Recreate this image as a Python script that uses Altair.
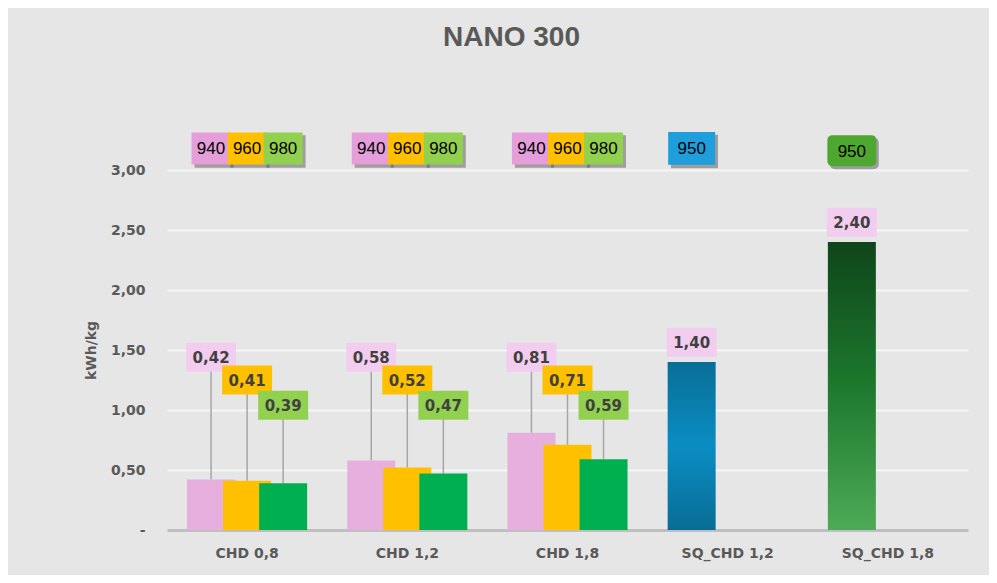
import altair as alt
import pandas as pd

# ---- data ----
categories = ["CHD 0,8", "CHD 1,2", "CHD 1,8", "SQ_CHD 1,2", "SQ_CHD 1,8"]
grouped_categories = ["CHD 0,8", "CHD 1,2", "CHD 1,8"]
series_names = ["940", "960", "980"]
series_940 = [0.42, 0.58, 0.81]
series_960 = [0.41, 0.52, 0.71]
series_980 = [0.39, 0.47, 0.59]
sq_categories = ["SQ_CHD 1,2", "SQ_CHD 1,8"]
sq_series = "950"
sq_950 = [1.40, 2.40]
y_ticks = [0, 0.5, 1.0, 1.5, 2.0, 2.5, 3.0]

# ---- styles ----
slots = ["s1", "s2", "s3"]
bar_colors = {"940": "#E6AFDE", "960": "#FFC000", "980": "#00B050"}
label_colors = {"940": "#F2CDEF", "960": "#FFC000", "980": "#92D050"}
legend_colors = {"940": "#E49FDA", "960": "#FFC000", "980": "#92D050"}
label_level = {"940": 1.44, "960": 1.25, "980": 1.04}
sq_label_gap = 0.165
legend_level = 3.18
FONT = "DejaVu Sans"
NARROW = "Liberation Sans"


def fmt(v):
    return f"{v:.2f}".replace(".", ",")


rows = []
for name, vals, slot in zip(series_names, [series_940, series_960, series_980], slots):
    for cat, v in zip(grouped_categories, vals):
        rows.append(dict(category=cat, slot=slot, series=name, value=v, text=fmt(v),
                         bar_color=bar_colors[name], label_color=label_colors[name],
                         label_y=label_level[name]))
df = pd.DataFrame(rows)

sq_rows = [dict(category=c, slot="s1", series=sq_series, value=v, text=fmt(v),
                label_color="#F2CDEF", label_y=v + sq_label_gap)
           for c, v in zip(sq_categories, sq_950)]
sq_df = pd.DataFrame(sq_rows)
labels_df = pd.concat([df, sq_df], ignore_index=True)

legend_rows = []
for cat in grouped_categories:
    for name, slot in zip(series_names, slots):
        legend_rows.append(dict(category=cat, slot=slot, text=name, fill=legend_colors[name],
                                ly=legend_level))
legend_df = pd.DataFrame(legend_rows)
single_legend_df = pd.DataFrame([
    dict(category="SQ_CHD 1,2", slot="s1", text="950", fill="#1E9FDC", ly=legend_level),
])
round_legend_df = pd.DataFrame([
    dict(category="SQ_CHD 1,8", slot="s1", text="950", fill="#4EA72E", ly=legend_level - 0.02),
])

x_enc = alt.X(
    "category:N", sort=categories,
    scale=alt.Scale(domain=categories, paddingInner=0.325, paddingOuter=0.1625),
    axis=alt.Axis(title=None, labelAngle=0, labelFont=FONT, labelFontWeight="bold",
                  labelFontSize=14, labelColor="#595959", labelPadding=16,
                  domainColor="#BFBFBF", domainWidth=3, ticks=False, grid=False),
)
xo_enc = alt.XOffset("slot:N", scale=alt.Scale(domain=slots, paddingInner=0, paddingOuter=0))
y_scale = alt.Scale(domain=[0, 3], nice=False)
y_axis = alt.Axis(
    values=y_ticks, title="kWh/kg", grid=True, gridColor="#F6F6F6", gridWidth=2,
    domain=False, ticks=False, labelPadding=22, labelFont=FONT, labelFontWeight="bold",
    labelFontSize=14, labelColor="#595959",
    labelExpr="datum.value == 0 ? '-' : replace(format(datum.value, '.2f'), '.', ',')",
    titleFont=FONT, titleFontSize=14, titleFontWeight="bold", titleColor="#595959",
    titleAngle=270, titleX=-76, titleY=180, titleAlign="center", titleBaseline="middle",
)

rules = alt.Chart(df).mark_rule(color="#A6A6A6", strokeWidth=1.5).encode(
    x=x_enc, xOffset=xo_enc,
    y=alt.Y("value:Q", scale=y_scale, axis=y_axis), y2="label_y:Q",
)

bars = alt.Chart(df).mark_bar(width=48).encode(
    x=x_enc, xOffset=xo_enc, y=alt.Y("value:Q", scale=y_scale),
    color=alt.Color("bar_color:N", scale=None),
)

blue_grad = alt.Gradient(gradient="linear", x1=0, x2=0, y1=0, y2=1, stops=[
    alt.GradientStop(offset=0, color="#086E97"),
    alt.GradientStop(offset=0.5, color="#0B8DC2"),
    alt.GradientStop(offset=1, color="#086D96"),
])
green_grad = alt.Gradient(gradient="linear", x1=0, x2=0, y1=0, y2=1, stops=[
    alt.GradientStop(offset=0, color="#0F451B"),
    alt.GradientStop(offset=0.5, color="#1D792D"),
    alt.GradientStop(offset=1, color="#4DAA57"),
])
sq_blue = alt.Chart(sq_df).transform_filter(alt.datum.category == sq_categories[0]).mark_bar(
    width=48, color=blue_grad).encode(x=x_enc, xOffset=xo_enc, y=alt.Y("value:Q", scale=y_scale))
sq_green = alt.Chart(sq_df).transform_filter(alt.datum.category == sq_categories[1]).mark_bar(
    width=48, color=green_grad).encode(x=x_enc, xOffset=xo_enc, y=alt.Y("value:Q", scale=y_scale))

label_boxes = alt.Chart(labels_df).mark_point(
    shape="M-1,-0.58H1V0.58H-1Z", size=2500, filled=True, opacity=1, strokeWidth=0,
).encode(
    x=x_enc, xOffset=xo_enc, y=alt.Y("label_y:Q", scale=y_scale),
    fill=alt.Fill("label_color:N", scale=None),
)
label_text = alt.Chart(labels_df).mark_text(
    font=FONT, fontWeight="bold", fontSize=15, color="#404040", baseline="middle", dy=1,
).encode(x=x_enc, xOffset=xo_enc, y=alt.Y("label_y:Q", scale=y_scale), text="text:N")

# top legend boxes
shadow = alt.Chart(legend_df).mark_point(
    shape="M-0.85,-0.67H1.15V0.99H-0.85Z", size=1521, filled=True, opacity=0.5,
    strokeWidth=0, color="#555555",
).encode(x=x_enc, xOffset=xo_enc, y=alt.Y("ly:Q", scale=y_scale))
boxes = alt.Chart(legend_df).mark_point(
    shape="M-1,-0.82H1V0.82H-1Z", size=1521, filled=True, opacity=1, strokeWidth=0,
).encode(x=x_enc, xOffset=xo_enc, y=alt.Y("ly:Q", scale=y_scale),
         fill=alt.Fill("fill:N", scale=None))
shadow1 = alt.Chart(single_legend_df).mark_point(
    shape="M-0.88,-0.58H1.12V0.84H-0.88Z", size=2209, filled=True, opacity=0.5,
    strokeWidth=0, color="#555555",
).encode(x=x_enc, xOffset=xo_enc, y=alt.Y("ly:Q", scale=y_scale))
boxes1 = alt.Chart(single_legend_df).mark_point(
    shape="M-1,-0.7H1V0.7H-1Z", size=2209, filled=True, opacity=1, strokeWidth=0,
).encode(x=x_enc, xOffset=xo_enc, y=alt.Y("ly:Q", scale=y_scale),
         fill=alt.Fill("fill:N", scale=None))
round_path = ("M-0.78,-0.63H0.78Q1,-0.63 1,-0.41V0.41Q1,0.63 0.78,0.63H-0.78"
              "Q-1,0.63 -1,0.41V-0.41Q-1,-0.63 -0.78,-0.63Z")
round_shadow_path = ("M-0.68,-0.53H0.88Q1.1,-0.53 1.1,-0.31V0.53Q1.1,0.75 0.88,0.75H-0.68"
                     "Q-0.9,0.75 -0.9,0.53V-0.31Q-0.9,-0.53 -0.68,-0.53Z")
shadow2 = alt.Chart(round_legend_df).mark_point(
    shape=round_shadow_path, size=2401, filled=True, opacity=0.5, strokeWidth=0, color="#555555",
).encode(x=x_enc, xOffset=xo_enc, y=alt.Y("ly:Q", scale=y_scale))
boxes2 = alt.Chart(round_legend_df).mark_point(
    shape=round_path, size=2401, filled=True, opacity=1, strokeWidth=0,
).encode(x=x_enc, xOffset=xo_enc, y=alt.Y("ly:Q", scale=y_scale),
         fill=alt.Fill("fill:N", scale=None))
legend_all = pd.concat([legend_df, single_legend_df, round_legend_df], ignore_index=True)
legend_text = alt.Chart(legend_all).mark_text(
    font=NARROW, fontSize=17, color="#000000", baseline="middle", dy=1,
).encode(x=x_enc, xOffset=xo_enc, y=alt.Y("ly:Q", scale=y_scale), text="text:N")

chart = alt.layer(
    rules, bars, sq_blue, sq_green, label_boxes, label_text,
    shadow, boxes, shadow1, boxes1, shadow2, boxes2, legend_text,
).properties(
    width=801, height=360,
    title=alt.TitleParams("NANO 300", font="Liberation Sans", fontSize=28, fontWeight="bold",
                          color="#595959", anchor="middle", dx=-56, offset=80),
    autosize=alt.AutoSizeParams(type="none"),
    padding={"left": 159, "top": 162, "right": 21, "bottom": 45},
    background="#E6E6E6",
).configure_view(stroke=None)

chart.save("out.html", embed_options={"renderer": "svg", "actions": False})
